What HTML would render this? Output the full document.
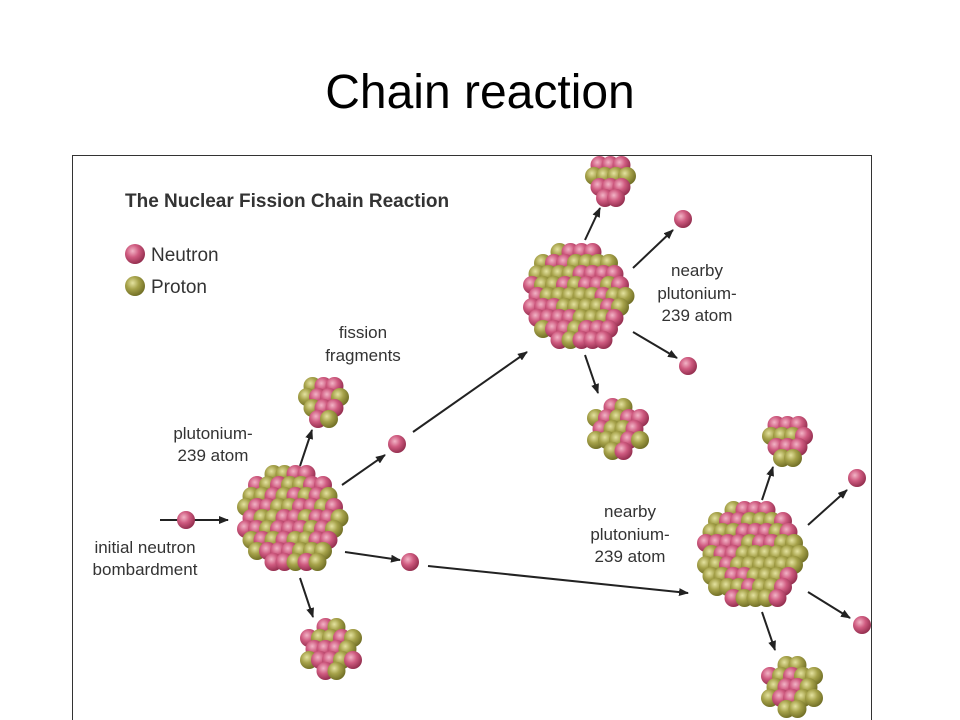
<!DOCTYPE html>
<html><head><meta charset="utf-8"><style>
body{margin:0;width:960px;height:720px;background:#fff;overflow:hidden;font-family:"Liberation Sans",sans-serif}
svg{position:absolute;left:0;top:0}
</style></head><body>
<svg id="s" width="960" height="720" viewBox="0 0 960 720">
<defs>
<radialGradient id="n" cx="0.38" cy="0.35" r="0.7"><stop offset="0" stop-color="#f2b4c6"/><stop offset="0.45" stop-color="#cf5b80"/><stop offset="1" stop-color="#8e2a4a"/></radialGradient>
<radialGradient id="p" cx="0.38" cy="0.35" r="0.7"><stop offset="0" stop-color="#e4e2a0"/><stop offset="0.45" stop-color="#a6a24a"/><stop offset="1" stop-color="#6c6a22"/></radialGradient>
<marker id="a" markerWidth="10" markerHeight="8" refX="9" refY="4" orient="auto" markerUnits="userSpaceOnUse"><path d="M0,0 L10,4 L0,8 z" fill="#222"/></marker>
</defs>
<text x="480" y="108" text-anchor="middle" font-size="48" fill="#000">Chain reaction</text>
<rect x="72.5" y="155.5" width="799" height="570" fill="none" stroke="#333" stroke-width="1"/>
<text x="125" y="207" font-size="19" font-weight="bold" fill="#333">The Nuclear Fission Chain Reaction</text>
<circle cx="135" cy="254" r="10" fill="url(#n)"/><text x="151" y="261" font-size="19" fill="#333">Neutron</text>
<circle cx="135" cy="286" r="10" fill="url(#p)"/><text x="151" y="293" font-size="19" fill="#333">Proton</text>
<g font-size="17" fill="#333" text-anchor="middle">
<text x="363" y="338">fission</text><text x="363" y="361">fragments</text>
<text x="213" y="439">plutonium-</text><text x="213" y="461">239 atom</text>
<text x="145" y="553">initial neutron</text><text x="145" y="575">bombardment</text>
<text x="697" y="276">nearby</text><text x="697" y="299">plutonium-</text><text x="697" y="321">239 atom</text>
<text x="630" y="517">nearby</text><text x="630" y="540">plutonium-</text><text x="630" y="562">239 atom</text>
</g>
<g stroke="#222" stroke-width="2" marker-end="url(#a)">
<line x1="160" y1="520" x2="228" y2="520"/>
<line x1="342" y1="485" x2="385" y2="455"/>
<line x1="413" y1="432" x2="527" y2="352"/>
<line x1="345" y1="552" x2="400" y2="560"/>
<line x1="428" y1="566" x2="688" y2="593"/>
<line x1="300" y1="578" x2="313" y2="617"/>
<line x1="300" y1="466" x2="312" y2="430"/>
<line x1="585" y1="240" x2="600" y2="208"/>
<line x1="633" y1="268" x2="673" y2="230"/>
<line x1="633" y1="332" x2="677" y2="358"/>
<line x1="585" y1="355" x2="598" y2="393"/>
<line x1="762" y1="500" x2="773" y2="467"/>
<line x1="808" y1="525" x2="847" y2="490"/>
<line x1="808" y1="592" x2="850" y2="618"/>
<line x1="762" y1="612" x2="775" y2="650"/>
</g>
<g id="g"></g>
</svg>
<script>
var g=document.getElementById('g'),ns='http://www.w3.org/2000/svg';
function c(x,y,t){var e=document.createElementNS(ns,'circle');e.setAttribute('cx',x);e.setAttribute('cy',y);e.setAttribute('r',9);e.setAttribute('fill',t?'url(#n)':'url(#p)');g.appendChild(e);}
var seed=7;function r(){seed=(seed*9301+49297)%233280;return seed/233280;}
function nuc(cx,cy,R){var pts=[];for(var y=-R;y<=R;y+=11){for(var x=-R;x<=R;x+=11){var ox=x+((Math.round((y+R)/11))%2?5.5:0);if(ox*ox+y*y<=(R-6)*(R-6))pts.push([cx+ox,cy+y]);}}
pts.forEach(function(p){c(p[0],p[1],r()<0.45);});}
nuc(292,520,57);nuc(578,298,57);nuc(752,556,57);
nuc(323,402,27);nuc(330,648,32);nuc(609,180,26);nuc(617,428,32);nuc(786,440,26);nuc(791,686,32);
[[186,520],[397,444],[410,562],[683,219],[688,366],[857,478],[862,625]].forEach(function(p){c(p[0],p[1],1);});
</script>
</body></html>
